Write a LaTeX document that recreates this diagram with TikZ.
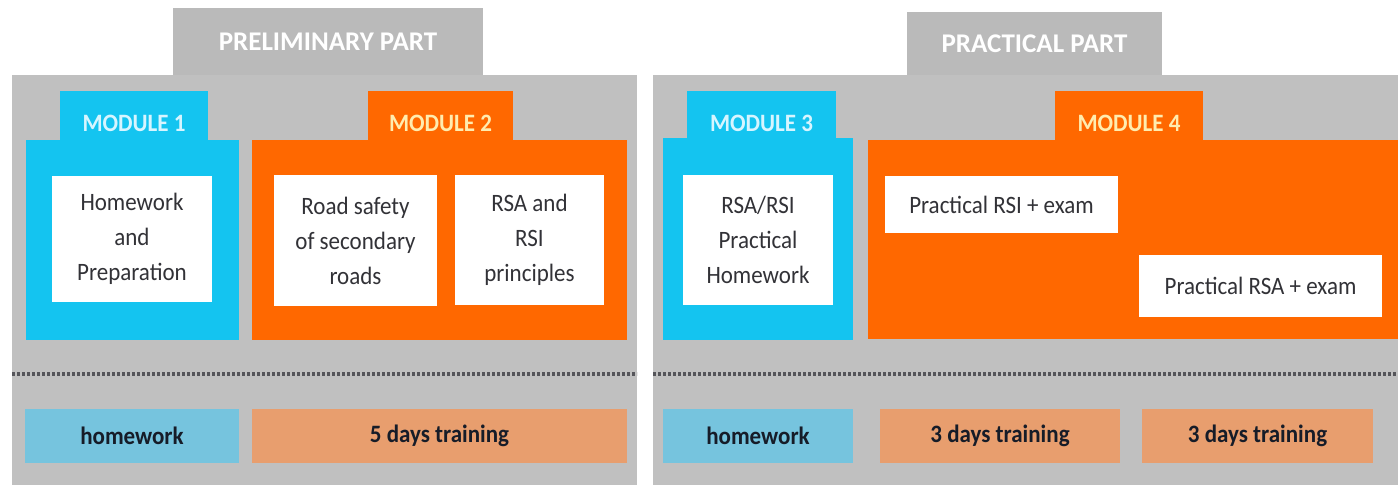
\documentclass[tikz,border=0pt]{standalone}
\usepackage{fontspec}
\setmainfont{Carlito}
\newfontfamily\bodyfont[FakeStretch=0.92]{Carlito}

\definecolor{panelgray}{RGB}{192,192,192}
\definecolor{tabgray}{RGB}{186,186,186}
\definecolor{modcyan}{RGB}{20,196,240}
\definecolor{modorange}{RGB}{255,104,0}
\definecolor{slotblue}{RGB}{118,196,222}
\definecolor{slotsalmon}{RGB}{232,158,110}
\definecolor{boxtext}{RGB}{50,50,55}
\definecolor{slottext}{RGB}{22,28,40}
\definecolor{cyanlabel}{RGB}{215,245,255}
\definecolor{orangelabel}{RGB}{255,236,175}
\definecolor{dotgray}{RGB}{85,85,90}

\begin{document}
\begin{tikzpicture}[x=1pt,y=-1pt,
  every node/.style={inner sep=0pt,outer sep=0pt,anchor=north west},
  wh/.style 2 args={minimum width=#1pt,minimum height=#2pt},
  panelbox/.style={fill=panelgray},
  paneltab/.style={fill=tabgray,text=white,font=\fontsize{27}{30}\selectfont\bfseries},
  cyanmod/.style={fill=modcyan},
  orangemod/.style={fill=modorange},
  cyantab/.style={fill=modcyan,text=cyanlabel,font=\bodyfont\fontsize{25}{28}\selectfont\bfseries},
  orangetab/.style={fill=modorange,text=orangelabel,font=\bodyfont\fontsize{25}{28}\selectfont\bfseries},
  whitebox/.style={fill=white,text=boxtext,align=center,font=\bodyfont\fontsize{25}{35}\selectfont},
  slotbluebox/.style={fill=slotblue,text=slottext,font=\bodyfont\fontsize{25}{28}\selectfont\bfseries},
  slotsalmonbox/.style={fill=slotsalmon,text=slottext,font=\bodyfont\fontsize{25}{28}\selectfont\bfseries},
  divider/.style={draw=dotgray,line width=3.5pt,dash pattern=on 3pt off 2pt}
]
\useasboundingbox[fill=white] (0,0) rectangle (1398,485);

% ---- preliminary part ----
\node[paneltab,wh={310}{67}] (pretab) at (173,8) {PRELIMINARY PART};
\node[panelbox,wh={625}{410}] (prebody) at (12,75) {};

% module 1
\node[cyanmod,wh={213}{200}] (m1body) at (26,140) {};
\node[cyantab,wh={148}{64}] (m1tab) at (60,91) {MODULE 1};
\node[whitebox,wh={160}{126}] (m1a) at (52,176) {Homework\\and\\Preparation};

% module 2
\node[orangemod,wh={375}{200}] (m2body) at (252,140) {};
\node[orangetab,wh={145}{64}] (m2tab) at (368,91) {MODULE 2};
\node[whitebox,wh={163}{131}] (m2a) at (274,175) {Road safety\\of secondary\\roads};
\node[whitebox,wh={149}{130}] (m2b) at (455,175) {RSA and\\RSI\\principles};

\coordinate (preL) at (12,374);
\coordinate (preR) at (637,374);
\draw[divider] (preL) -- (preR);

\node[slotbluebox,wh={214}{54}] (pre1) at (25,409) {homework};
\node[slotsalmonbox,wh={375}{54}] (pre2) at (252,409) {5 days training};

% ---- practical part ----
\node[paneltab,wh={255}{63}] (practab) at (907,12) {PRACTICAL PART};
\node[panelbox,wh={745}{410}] (pracbody) at (653,75) {};

% module 3
\node[cyanmod,wh={190}{202}] (m3body) at (663,138) {};
\node[cyantab,wh={149}{64}] (m3tab) at (687,91) {MODULE 3};
\node[whitebox,wh={150}{130}] (m3a) at (683,175) {RSA/RSI\\Practical\\Homework};

% module 4
\node[orangemod,wh={530}{199}] (m4body) at (868,140) {};
\node[orangetab,wh={148}{64}] (m4tab) at (1055,91) {MODULE 4};
\node[whitebox,wh={233}{57}] (m4a) at (885,176) {Practical RSI + exam};
\node[whitebox,wh={243}{62}] (m4b) at (1139,255) {Practical RSA + exam};

\coordinate (pracL) at (653,374);
\coordinate (pracR) at (1398,374);
\draw[divider] (pracL) -- (pracR);

\node[slotbluebox,wh={190}{54}] (prac1) at (663,409) {homework};
\node[slotsalmonbox,wh={240}{54}] (prac2) at (880,409) {3 days training};
\node[slotsalmonbox,wh={231}{54}] (prac3) at (1142,409) {3 days training};
\end{tikzpicture}
\end{document}
